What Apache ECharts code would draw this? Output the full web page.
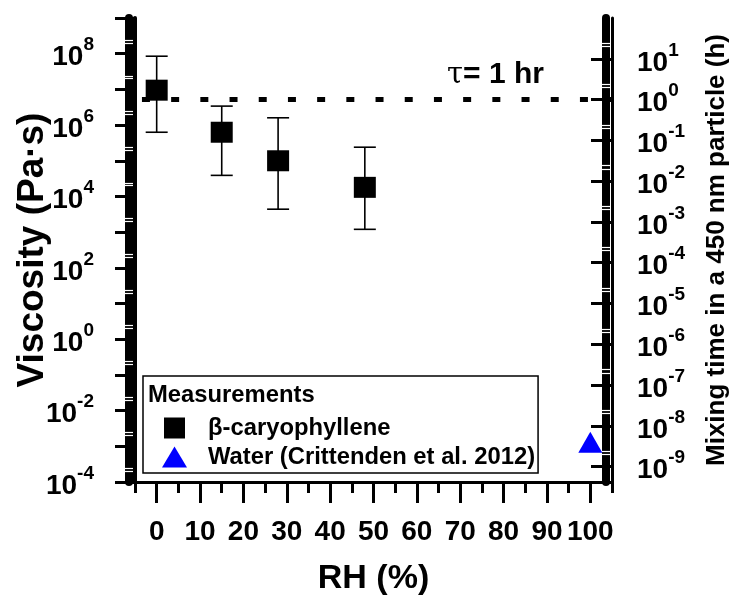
<!DOCTYPE html>
<html>
<head>
<meta charset="utf-8">
<script src="https://cdn.jsdelivr.net/npm/echarts@6/dist/echarts.min.js"></script>
<style>
  html, body { margin: 0; padding: 0; background: #fff; }
  #chart { width: 733px; height: 596px; }
</style>
</head>
<body>
<div id="chart"></div>
<script>
// β-caryophyllene SOA measurements: relative humidity (%) and viscosity (Pa·s)
const rhValues = [0, 15, 28, 48];
const viscosity = [9.5e6, 6.3e5, 1.0e5, 1.8e4];
const viscosityLow = [6.3e5, 3.9e4, 4.4e3, 1.2e3];
const viscosityHigh = [8.5e7, 3.4e6, 1.6e6, 2.4e5];

// Water reference (Crittenden et al. 2012)
const waterRH = [100];
const waterViscosity = [1.3e-3];

// 1 hour mixing time guide line (right axis, hours)
const tauRH = [-3.4, 105];
const tauHours = [1, 1];

// Tick values
const rhMajorTicks = [0, 10, 20, 30, 40, 50, 60, 70, 80, 90, 100];
const rhMinorTicks = [-5, 5, 15, 25, 35, 45, 55, 65, 75, 85, 95, 105];
const viscDecades = [1e-4, 1e-3, 1e-2, 1e-1, 1, 1e1, 1e2, 1e3, 1e4, 1e5, 1e6, 1e7, 1e8, 1e9];
const viscLabels = [1e-4, 1e-2, 1, 1e2, 1e4, 1e6, 1e8];
const mixDecades = [1e-9, 1e-8, 1e-7, 1e-6, 1e-5, 1e-4, 1e-3, 1e-2, 1e-1, 1, 1e1];

const FONT = '"Liberation Sans", Arial, sans-serif';
const BLACK = '#000';

const viscRange = { min: 1e-4, max: 1e9 };
const mixRange = { min: 4.2e-10, max: 100 };

function powerLabel(v) {
  const e = Math.round(Math.log10(v));
  return '{b|10}{s|' + e + '}';
}
const powerRich = {
  b: { fontFamily: FONT, fontWeight: 'bold', fontSize: 28, color: BLACK, lineHeight: 36, verticalAlign: 'bottom' },
  s: { fontFamily: FONT, fontWeight: 'bold', fontSize: 19, color: BLACK, lineHeight: 19, verticalAlign: 'top' }
};

// light gaps inside the dense minor-tick band of the log axes
const gapTicks = (decades) => decades.flatMap(d => [2 * d, 2.4 * d]);

const noZero = { show: false, onZero: false };

const chart = echarts.init(document.getElementById('chart'), null, { renderer: 'canvas' });

const option = {
  animation: false,
  backgroundColor: '#fff',
  grid: { left: 135, right: 121, top: 18, bottom: 114, containLabel: false, outerBoundsMode: 'none' },
  xAxis: [
    {
      type: 'value', min: -5, max: 105,
      name: 'RH (%)', nameLocation: 'middle', nameGap: 80, nameMoveOverlap: false,
      nameTextStyle: { fontFamily: FONT, fontWeight: 'bold', fontSize: 34, color: BLACK },
      axisLine: { show: true, onZero: false, lineStyle: { color: BLACK, width: 3 } },
      axisTick: { show: true, customValues: rhMajorTicks, length: 21, lineStyle: { color: BLACK, width: 3 } },
      axisLabel: { customValues: rhMajorTicks, margin: 36, fontFamily: FONT, fontWeight: 'bold', fontSize: 28, color: BLACK },
      splitLine: { show: false }
    },
    {
      type: 'value', min: -5, max: 105, position: 'bottom',
      axisLine: noZero,
      axisTick: { show: true, customValues: rhMinorTicks, length: 11, lineStyle: { color: BLACK, width: 3 } },
      axisLabel: { show: false },
      splitLine: { show: false }
    }
  ],
  yAxis: [
    {
      type: 'log', logBase: 10, min: viscRange.min, max: viscRange.max, position: 'left',
      name: 'Viscosity (Pa·s)', nameLocation: 'middle', nameRotate: 90, nameGap: 84, nameMoveOverlap: false,
      nameTextStyle: { fontFamily: FONT, fontWeight: 'bold', fontSize: 37, color: BLACK },
      axisLine: { show: true, onZero: false, lineStyle: { color: BLACK, width: 4 } },
      axisTick: { show: true, customValues: viscDecades, length: 20, lineStyle: { color: BLACK, width: 3 } },
      axisLabel: { customValues: viscLabels, margin: 41, formatter: powerLabel, rich: powerRich },
      splitLine: { show: false }
    },
    {
      type: 'log', logBase: 10, min: mixRange.min, max: mixRange.max, position: 'right',
      name: 'Mixing time in a 450 nm particle (h)', nameLocation: 'middle', nameRotate: 90, nameGap: 92, nameMoveOverlap: false,
      nameTextStyle: { fontFamily: FONT, fontWeight: 'bold', fontSize: 26, color: BLACK },
      axisLine: { show: true, onZero: false, lineStyle: { color: BLACK, width: 3 } },
      axisTick: { show: true, inside: true, customValues: mixDecades, length: 21, lineStyle: { color: BLACK, width: 3 } },
      axisLabel: { customValues: mixDecades, margin: 25, formatter: powerLabel, rich: powerRich },
      splitLine: { show: false }
    },
    {
      // dense minor-tick band, left axis
      type: 'value', min: 0, max: 1, position: 'left', offset: 6,
      axisLine: { show: true, onZero: false, lineStyle: { color: BLACK, width: 8 } },
      axisTick: { show: false }, axisLabel: { show: false }, splitLine: { show: false }
    },
    {
      type: 'log', logBase: 10, min: viscRange.min, max: viscRange.max, position: 'left', offset: 10, z: 3,
      axisLine: noZero,
      axisTick: { show: true, inside: true, customValues: gapTicks(viscDecades.slice(0, -1)), length: 8, lineStyle: { color: '#fff', width: 1.2 } },
      axisLabel: { show: false }, splitLine: { show: false }
    },
    {
      // dense minor-tick band, right axis
      type: 'value', min: 0, max: 1, position: 'right', offset: -6,
      axisLine: { show: true, onZero: false, lineStyle: { color: BLACK, width: 8 } },
      axisTick: { show: false }, axisLabel: { show: false }, splitLine: { show: false }
    },
    {
      type: 'log', logBase: 10, min: mixRange.min, max: mixRange.max, position: 'right', offset: -2, z: 3,
      axisLine: noZero,
      axisTick: { show: true, inside: true, customValues: gapTicks([1e-10].concat(mixDecades)), length: 8, lineStyle: { color: '#fff', width: 1.2 } },
      axisLabel: { show: false }, splitLine: { show: false }
    }
  ],
  legend: {
    orient: 'vertical', left: 143, top: 376,
    data: [
      { name: 'β-caryophyllene', icon: 'path://M0,0L1,0L1,1L0,1Z' },
      { name: 'Water (Crittenden et al. 2012)', icon: 'triangle' }
    ],
    itemWidth: 25, itemHeight: 21, itemGap: 5,
    padding: [40, 3, 4, 19],
    borderColor: BLACK, borderWidth: 1.5, backgroundColor: '#fff',
    selectedMode: false,
    textStyle: { fontFamily: FONT, fontWeight: 'bold', fontSize: 23.8, color: BLACK, padding: [0, 0, 0, 16] }
  },
  graphic: [
    {
      type: 'text', left: 148, top: 383, z: 100,
      style: { text: 'Measurements', font: 'bold 23.8px ' + FONT, fill: BLACK }
    },
    {
      type: 'text', left: 447, top: 60, z: 100,
      style: {
        text: '{t|τ}{r|= 1 hr}',
        rich: {
          t: { fontFamily: '"DejaVu Serif", serif', fontSize: 29, color: BLACK },
          r: { fontFamily: FONT, fontWeight: 'bold', fontSize: 30, color: BLACK }
        }
      }
    }
  ],
  series: [
    {
      name: 'τ = 1 hr',
      type: 'line', xAxisIndex: 0, yAxisIndex: 1,
      data: tauRH.map((x, i) => [x, tauHours[i]]),
      symbol: 'none', silent: true,
      lineStyle: { color: BLACK, width: 5, type: [8, 21.2], cap: 'butt' },
      z: 1
    },
    {
      name: 'error',
      type: 'custom', xAxisIndex: 0, yAxisIndex: 0,
      data: rhValues.map((x, i) => [x, viscosityLow[i], viscosityHigh[i]]),
      encode: { x: 0, y: [1, 2] },
      renderItem(params, api) {
        const x = api.value(0);
        const lo = api.coord([x, api.value(1)]);
        const hi = api.coord([x, api.value(2)]);
        const hw = 11;
        const st = { stroke: BLACK, lineWidth: 1.6 };
        return {
          type: 'group',
          children: [
            { type: 'line', shape: { x1: lo[0], y1: lo[1], x2: hi[0], y2: hi[1] }, style: st },
            { type: 'line', shape: { x1: lo[0] - hw, y1: lo[1], x2: lo[0] + hw, y2: lo[1] }, style: st },
            { type: 'line', shape: { x1: hi[0] - hw, y1: hi[1], x2: hi[0] + hw, y2: hi[1] }, style: st }
          ]
        };
      },
      z: 2
    },
    {
      name: 'β-caryophyllene',
      type: 'scatter', xAxisIndex: 0, yAxisIndex: 0,
      data: rhValues.map((x, i) => [x, viscosity[i]]),
      symbol: 'rect', symbolSize: [22, 21],
      itemStyle: { color: BLACK, opacity: 1 },
      z: 3
    },
    {
      name: 'Water (Crittenden et al. 2012)',
      type: 'scatter', xAxisIndex: 0, yAxisIndex: 0,
      data: waterRH.map((x, i) => [x, waterViscosity[i]]),
      symbol: 'triangle', symbolSize: [24, 21],
      itemStyle: { color: '#0000ff', opacity: 1 },
      z: 3
    }
  ]
};

chart.setOption(option);
</script>
</body>
</html>
